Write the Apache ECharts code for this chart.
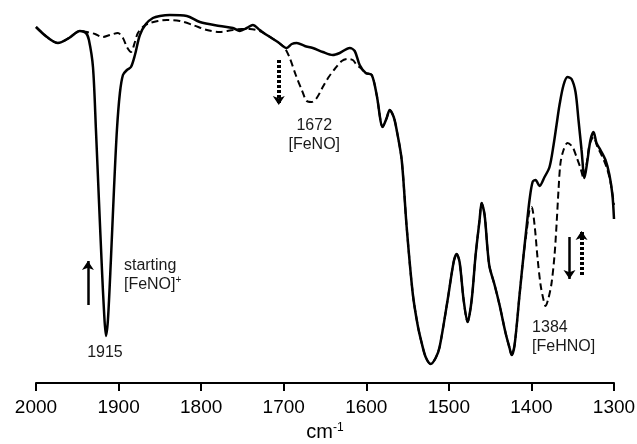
<!DOCTYPE html>
<html>
<head>
<meta charset="utf-8">
<script src="https://cdn.jsdelivr.net/npm/echarts@6/dist/echarts.min.js"></script>
<style>
  html, body { margin: 0; padding: 0; background: #fff; }
  #chart { width: 637px; height: 444px; }
</style>
</head>
<body>
<div id="chart"></div>
<script>
// IR spectra: starting [FeNO]+ (solid) and after reaction (dashed)
const solidWn = [2000, 1986.7, 1973.4, 1960, 1946.8, 1939.5, 1935.9, 1931, 1927.4, 1923.8, 1920.1, 1917.7, 1915.3, 1912.9, 1909.3, 1905.6, 1902, 1898.4, 1894.7, 1889.9, 1885, 1880.2, 1874.2, 1866.9, 1858.4, 1850, 1837.9, 1817.3, 1801.6, 1777.4, 1761.6, 1753.2, 1744.7, 1737.4, 1729, 1720.5, 1707.2, 1696.3, 1690.2, 1684.2, 1674.5, 1664.8, 1652.7, 1640.6, 1632.2, 1620.1, 1614, 1608, 1600.7, 1593.4, 1587.4, 1580.1, 1575.3, 1571.7, 1566.8, 1563.2, 1557.1, 1551.1, 1543.8, 1537.8, 1532.9, 1528.1, 1522, 1516, 1511.2, 1501.5, 1494.2, 1490.6, 1487, 1482.1, 1477.3, 1472.4, 1467.6, 1462.8, 1460.3, 1456.7, 1453.1, 1450.7, 1444.6, 1438.6, 1431.3, 1426.5, 1424, 1420.4, 1414.4, 1409.5, 1405.9, 1402.3, 1398.6, 1395, 1390.2, 1384.1, 1378.1, 1373.2, 1369.6, 1366, 1361.1, 1356.3, 1351.4, 1346.6, 1343, 1339.3, 1335.7, 1332.1, 1328.5, 1324.8, 1321.2, 1316.4, 1310.3, 1305.5, 1301.9, 1300];
const solidT = [89, 86.5, 85, 86.25, 88, 87.5, 85.75, 79, 63.25, 45.75, 28.25, 18.25, 11.75, 15.75, 30.75, 48.25, 63.25, 72.5, 77, 78.25, 79, 82, 87, 89.75, 91.25, 91.75, 92, 91.75, 90.25, 89.25, 88.75, 88, 88.75, 89.5, 88.25, 87, 85.25, 83.75, 84.75, 85, 84.25, 83.75, 82.75, 82, 82.5, 83.75, 83, 79.5, 77.5, 77, 72, 64, 66.25, 68.25, 66.5, 63.25, 55.75, 39, 22.5, 14.5, 10, 6.5, 4.75, 6.25, 9, 20.75, 30.25, 32.25, 30.25, 20.75, 15.25, 20.75, 32, 40.75, 45, 42, 33.25, 29, 24.5, 19.5, 12.5, 8.75, 7, 9.5, 22, 32, 39, 45.75, 50.25, 50.75, 49.25, 51.5, 54, 59.5, 64.5, 69.5, 74.5, 76.5, 76, 72.75, 65.75, 58.25, 51.25, 55.75, 60.75, 62.75, 60, 58.25, 55.75, 52, 47, 41];

const dashedWn = [2000, 1986.7, 1973.4, 1960, 1946.8, 1938.3, 1928.6, 1918.9, 1910.5, 1900.8, 1894.7, 1889.9, 1885, 1880.2, 1876.6, 1869.3, 1862.1, 1852.4, 1841.5, 1825.8, 1810, 1793.1, 1777.4, 1761.6, 1750.7, 1741.1, 1729, 1720.5, 1707.2, 1698.7, 1692.7, 1685.4, 1678.1, 1672.1, 1666, 1660, 1652.7, 1645.5, 1638.2, 1629.7, 1622.5, 1616.4, 1611.6, 1606.8, 1600.7, 1593.4, 1587.4, 1580.1, 1575.3, 1571.7, 1566.8, 1563.2, 1557.1, 1551.1, 1543.8, 1537.8, 1532.9, 1528.1, 1522, 1516, 1511.2, 1501.5, 1494.2, 1490.6, 1487, 1482.1, 1477.3, 1472.4, 1467.6, 1462.8, 1460.3, 1456.7, 1453.1, 1450.7, 1444.6, 1438.6, 1431.3, 1426.5, 1424, 1420.4, 1414.4, 1409.5, 1405.9, 1402.3, 1399.8, 1396.2, 1392.6, 1388.9, 1385.3, 1382.9, 1379.3, 1375.6, 1372, 1369.6, 1367.2, 1364.8, 1361.1, 1356.3, 1350.2, 1345.4, 1340.6, 1336.9, 1333.3, 1329.7, 1324.8, 1320, 1315.1, 1309.1, 1304.3, 1300];
const dashedT = [89, 86.5, 85, 86.25, 88, 87.75, 87.25, 86.5, 87, 87.5, 86.25, 84, 82.75, 85.25, 87.5, 89.25, 90, 90.5, 90.75, 90.5, 89.5, 88.25, 87.75, 88.25, 88.5, 88.5, 88, 87, 85.25, 83.75, 81.25, 77, 73.25, 70.5, 70.25, 71.25, 74, 76.5, 78.5, 80.5, 81, 80.75, 79.5, 78.75, 77.5, 77, 72, 64, 66.25, 68.25, 66.5, 63.25, 55.75, 39, 22.5, 14.5, 10, 6.5, 4.75, 6.25, 9, 20.75, 30.25, 32.25, 30.25, 20.75, 15.25, 20.75, 32, 40.75, 45, 42, 33.25, 29, 24.5, 19.5, 12.5, 8.75, 7, 9.5, 22, 32, 37.75, 43.25, 44, 39.5, 31.25, 24.5, 20.75, 19.25, 21.25, 25, 32, 39.5, 48.25, 55, 58.25, 60, 59, 56.5, 53.75, 51.25, 54.5, 59.5, 61.5, 59, 57, 54, 50.25, 44.5];

const xTicks = [2000, 1900, 1800, 1700, 1600, 1500, 1400, 1300];

const FONT = 'Liberation Sans, Arial, Helvetica, sans-serif';

const pair = (xs, ys) => xs.map((x, i) => [x, ys[i]]);

// Arrows showing band growth / decay, in data coordinates
function arrow(x, yFrom, yTo, dashed) {
  return [
    { coord: [x, yFrom], symbol: 'none' },
    { coord: [x, yTo], symbol: 'arrow', symbolSize: [9, 9],
      lineStyle: { type: dashed ? [3, 2] : 'solid', width: dashed ? 4 : 2.5, color: '#000' } }
  ];
}

// Peak annotations, in data coordinates
function note(x, y, text, align) {
  return {
    coord: [x, y],
    symbol: 'circle', symbolSize: 0,
    label: {
      show: true, position: 'inside', formatter: text, align: align,
      verticalAlign: 'middle', color: '#1a1a1a', fontFamily: FONT, fontSize: 16, lineHeight: 19,
      rich: {
        s: { fontFamily: FONT, fontSize: 10, color: '#1a1a1a', verticalAlign: 'top', lineHeight: 19, padding: [0, 0, 6, 0] }
      }
    }
  };
}

const chart = echarts.init(document.getElementById('chart'), null, { renderer: 'canvas' });

chart.setOption({
  animation: false,
  backgroundColor: '#fff',
  grid: { left: 36, right: 23, top: 3, bottom: 61, containLabel: false, outerBoundsMode: 'none' },
  xAxis: {
    type: 'value',
    inverse: true,
    min: 1300, max: 2000, interval: 100,
    axisLine: { lineStyle: { color: '#000', width: 2 } },
    axisTick: { length: 8, lineStyle: { color: '#000', width: 2 } },
    axisLabel: {
      color: '#000', fontFamily: FONT, fontSize: 19, margin: 15,
      formatter: v => (xTicks.includes(v) ? String(v) : '')
    },
    splitLine: { show: false },
    name: '{a|cm}{b|-1}',
    nameLocation: 'middle',
    nameGap: 37,
    nameTextStyle: {
      rich: {
        a: { fontFamily: FONT, fontSize: 20, color: '#000' },
        b: { fontFamily: FONT, fontSize: 12, color: '#000', verticalAlign: 'top', padding: [0, 0, 10, 0] }
      }
    }
  },
  yAxis: { type: 'value', min: 0, max: 95, show: false },
  series: [
    {
      name: 'after',
      type: 'line',
      data: pair(dashedWn, dashedT),
      showSymbol: false,
      smooth: 0.3,
      lineStyle: { color: '#000', width: 2, type: [7, 4] },
      z: 2
    },
    {
      name: 'starting',
      type: 'line',
      data: pair(solidWn, solidT),
      showSymbol: false,
      smooth: 0.3,
      lineStyle: { color: '#000', width: 2.5 },
      z: 3,
      markLine: {
        silent: true,
        label: { show: false },
        data: [
          arrow(1937.1, 19.5, 30.5, false),
          arrow(1706, 80.75, 69.5, true),
          arrow(1353.9, 36.5, 26, false),
          arrow(1339.3, 27, 38, true)
        ]
      },
      markPoint: {
        silent: true,
        data: [
          note(1916.5, 7.5, '1915', 'center'),
          note(1893.5, 26.9, 'starting\n[FeNO]{s|+}', 'left'),
          note(1663, 62, '1672\n[FeNO]', 'center'),
          note(1399.2, 11.6, '1384\n[FeHNO]', 'left')
        ]
      }
    }
  ]
});
</script>
</body>
</html>
